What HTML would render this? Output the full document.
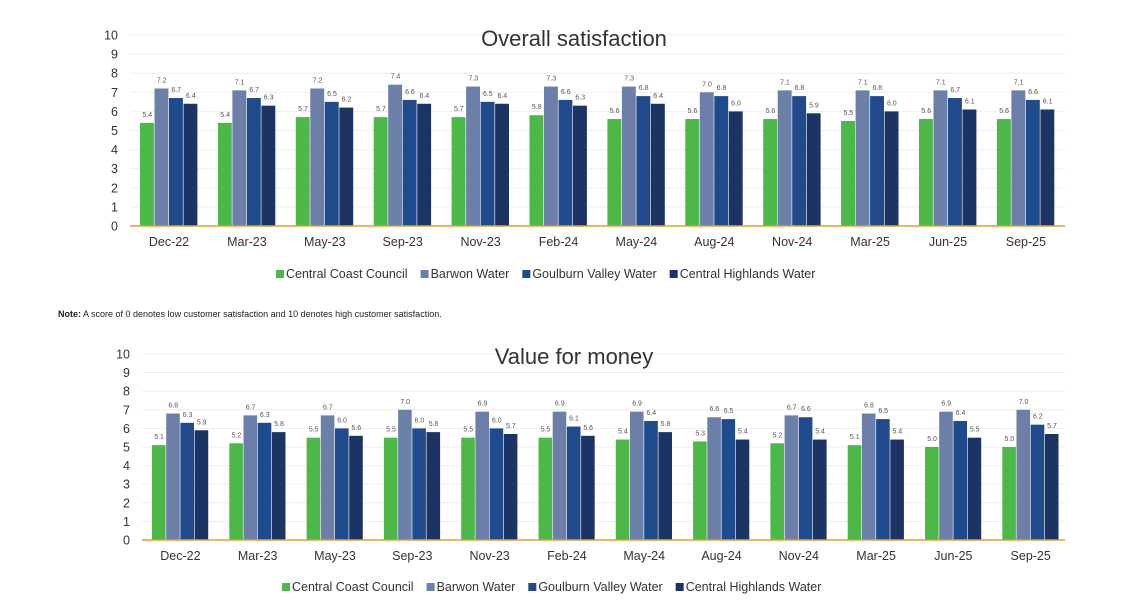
<!DOCTYPE html>
<html><head><meta charset="utf-8"><style>
body{margin:0;background:#fff;font-family:"Liberation Sans",sans-serif;}
svg text{font-family:"Liberation Sans",sans-serif;}
</style></head><body>
<svg id="svg" width="1144" height="610" xmlns="http://www.w3.org/2000/svg">
<text x="58" y="317" font-size="9" fill="#222"><tspan font-weight="bold">Note:</tspan> A score of 0 denotes low customer satisfaction and 10 denotes high customer satisfaction.</text>
</svg>
<script>
const categories=["Dec-22","Mar-23","May-23","Sep-23","Nov-23","Feb-24","May-24","Aug-24","Nov-24","Mar-25","Jun-25","Sep-25"];
const seriesNames=["Central Coast Council","Barwon Water","Goulburn Valley Water","Central Highlands Water"];
const overallCCC=[5.4,5.4,5.7,5.7,5.7,5.8,5.6,5.6,5.6,5.5,5.6,5.6];
const overallBW=[7.2,7.1,7.2,7.4,7.3,7.3,7.3,7.0,7.1,7.1,7.1,7.1];
const overallGVW=[6.7,6.7,6.5,6.6,6.5,6.6,6.8,6.8,6.8,6.8,6.7,6.6];
const overallCHW=[6.4,6.3,6.2,6.4,6.4,6.3,6.4,6.0,5.9,6.0,6.1,6.1];
const valueCCC=[5.1,5.2,5.5,5.5,5.5,5.5,5.4,5.3,5.2,5.1,5.0,5.0];
const valueBW=[6.8,6.7,6.7,7.0,6.9,6.9,6.9,6.6,6.7,6.8,6.9,7.0];
const valueGVW=[6.3,6.3,6.0,6.0,6.0,6.1,6.4,6.5,6.6,6.5,6.4,6.2];
const valueCHW=[5.9,5.8,5.6,5.8,5.7,5.6,5.8,5.4,5.4,5.4,5.5,5.7];
const yTicks=[0,1,2,3,4,5,6,7,8,9,10];
const colors=["#4cb848","#6b7fa8","#1f4a8c","#1c3464"];
const svg=document.getElementById('svg');
const NS="http://www.w3.org/2000/svg";
function mk(tag,attrs,parent){const e=document.createElementNS(NS,tag);for(const k in attrs)e.setAttribute(k,attrs[k]);(parent||svg).appendChild(e);return e;}
function chart(cfg,series,prefix){
  const g=mk('g',{});
  
  
  const y=v=>cfg.y0-(v/10)*(cfg.y0-cfg.y10);
  const x=i=>cfg.gx0+i*cfg.step;
  yTicks.forEach(t=>{
    if(t>0){const l=mk('line',{x1:cfg.ax0,x2:cfg.ax1,y1:y(t),y2:y(t),stroke:'#eeeeee','stroke-width':1},g);
    }
    const tx=mk('text',{x:cfg.ax0-12,y:y(t)+4.5,'text-anchor':'end','font-size':12.5,fill:'#333'},g);
    tx.textContent=t;
    
  });
  const tt=mk('text',{x:cfg.titleX,y:cfg.titleY,'text-anchor':'middle','font-size':22,fill:'#333'},g);
  tt.textContent=cfg.title;
  
  categories.forEach((c,i)=>{
    series.forEach((s,j)=>{
      const bx=x(i)+j*cfg.bw, by=y(s[i]);
      const r=mk('rect',{x:bx,y:by,width:cfg.bw-0.6,height:cfg.y0-by,fill:colors[j]},g);
      
      const lb=mk('text',{x:bx+cfg.bw/2,y:by-6,'text-anchor':'middle','font-size':7,fill:'#555'},g);
      lb.textContent=s[i].toFixed(1);
      
    });
    const cl=mk('text',{x:x(i)+cfg.bw*2,y:cfg.y0+20,'text-anchor':'middle','font-size':12.5,fill:'#333'},g);
    cl.textContent=c;
    
  });
  const ax=mk('line',{x1:cfg.ax0,x2:cfg.ax1,y1:cfg.y0,y2:cfg.y0,stroke:'#e0a030','stroke-width':1.5},g);
  
  let lx=cfg.legX;
  seriesNames.forEach((n,j)=>{
    const sq=mk('rect',{x:lx,y:cfg.legY-8,width:8,height:8,fill:colors[j]},g);
    
    const t=mk('text',{x:lx+10,y:cfg.legY,'font-size':12.5,fill:'#333'},g);
    t.textContent=n;
    
    lx+=10+t.getComputedTextLength()+13;
  });
}
chart({y0:226,y10:35,ax0:130,ax1:1065,gx0:140,step:77.9,bw:14.5,title:"Overall satisfaction",titleX:574,titleY:46,legX:276,legY:278},[overallCCC,overallBW,overallGVW,overallCHW],'overall');
chart({y0:540,y10:354,ax0:142,ax1:1065,gx0:152,step:77.3,bw:14.2,title:"Value for money",titleX:574,titleY:364,legX:282,legY:591},[valueCCC,valueBW,valueGVW,valueCHW],'value');
</script>
</body></html>
